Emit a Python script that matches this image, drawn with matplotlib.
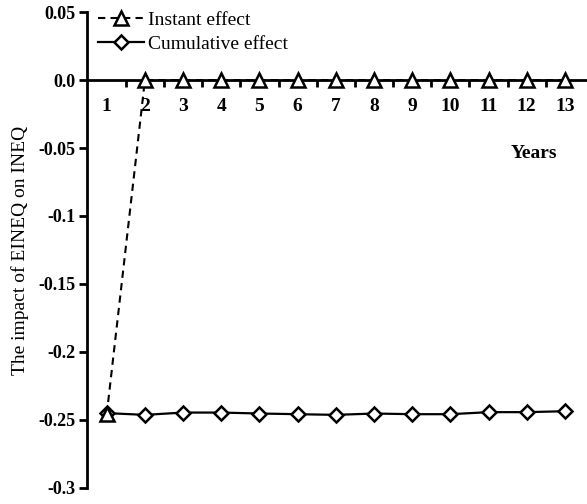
import matplotlib.pyplot as plt

years = list(range(1, 14))
instant = [-0.246, 0, 0, 0, 0, 0, 0, 0, 0, 0, 0, 0, 0]
cumulative = [-0.245, -0.2463, -0.2446, -0.2446, -0.2453, -0.2458, -0.2463,
              -0.2453, -0.2458, -0.2458, -0.2443, -0.2443, -0.2436]
ytick_vals = [0.05, 0.0, -0.05, -0.1, -0.15, -0.2, -0.25, -0.3]
ytick_labels = ["0.05", "0.0", "-0.05", "-0.1", "-0.15", "-0.2", "-0.25", "-0.3"]


def main():
    plt.rcParams['font.family'] = ['Liberation Serif', 'DejaVu Serif']
    fig = plt.figure(figsize=(5.87, 5.04), dpi=100)
    ax = fig.add_axes([0.148, 0.032, 0.852, 0.944])

    ax.plot(years, instant, linestyle=(0, (3.5, 2.5)), color='black', lw=1.5,
            marker='^', markersize=10, markerfacecolor='white',
            markeredgecolor='black', markeredgewidth=1.8,
            label='Instant effect', zorder=4)
    ax.plot(years, cumulative, linestyle='-', color='black', lw=1.6,
            marker='D', markersize=7.5, markerfacecolor='white',
            markeredgecolor='black', markeredgewidth=1.8,
            label='Cumulative effect', zorder=3)

    ax.set_xlim(0.48, 13.58)
    ax.set_ylim(-0.3, 0.05)

    ax.spines['top'].set_visible(False)
    ax.spines['right'].set_visible(False)
    ax.spines['bottom'].set_position(('data', 0))
    ax.spines['left'].set_linewidth(2)
    ax.spines['bottom'].set_linewidth(2)

    ax.set_yticks(ytick_vals)
    ax.set_yticklabels(ytick_labels, fontsize=13, fontweight='bold')
    ax.tick_params(axis='y', direction='out', length=6, width=2, pad=2)

    # minor ticks between years on the zero line, labels at integers
    ax.set_xticks([y + 0.5 for y in years[:-1]], minor=True)
    ax.set_xticks(years)
    ax.set_xticklabels([str(y) for y in years], fontsize=14, fontweight='bold')
    ax.tick_params(axis='x', which='major', length=0, pad=13)
    ax.tick_params(axis='x', which='minor', direction='out', length=5, width=2)

    ax.set_ylabel("The impact of EINEQ on INEQ", fontsize=14, labelpad=2)
    ax.yaxis.set_label_coords(-0.115, 0.50)
    ax.text(12.2, -0.054, "Years", fontsize=14, fontweight='bold',
            ha='center', va='center')

    ax.legend(loc='upper left', bbox_to_anchor=(0.143, 1.005),
              bbox_transform=fig.transFigure, frameon=False,
              fontsize=14, handlelength=2.4, borderpad=0.2,
              labelspacing=0.35, handletextpad=0.2)

    fig.savefig("out.png", dpi=100)


if __name__ == "__main__":
    main()
